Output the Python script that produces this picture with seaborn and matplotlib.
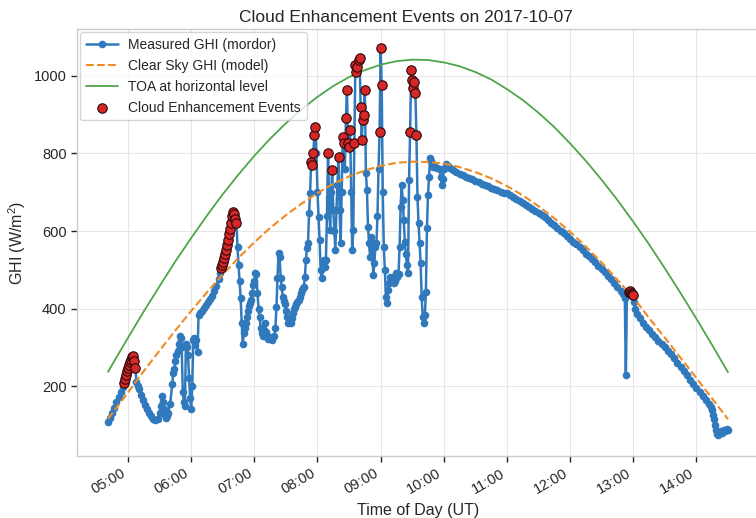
import pandas as pd
import matplotlib
matplotlib.use("Agg")
import matplotlib.pyplot as plt
import matplotlib.dates as mdates
import seaborn as sns

DAY = "2017-10-07"

# ---------------- model curves (15-min grid) ----------------
model_time = ["04:41", "04:45", "05:00", "05:15", "05:30", "05:45", "06:00", "06:15", "06:30", "06:45",
              "07:00", "07:15", "07:30", "07:45", "08:00", "08:15", "08:30", "08:45", "09:00", "09:15",
              "09:30", "09:45", "10:00", "10:15", "10:30", "10:45", "11:00", "11:15", "11:30", "11:45",
              "12:00", "12:15", "12:30", "12:45", "13:00", "13:15", "13:30", "13:45", "14:00", "14:15",
              "14:30"]
toa_value = [237, 256, 325, 393, 458, 522, 582, 640, 695, 746,
             794, 838, 878, 914, 946, 974, 997, 1015, 1029, 1038,
             1042, 1041, 1035, 1025, 1010, 991, 966, 938, 905, 868,
             826, 781, 732, 680, 624, 566, 504, 440, 374, 306,
             236]
clearsky_value = [116, 130, 184, 239, 292, 344, 394, 442, 488, 531,
                  571, 608, 641, 671, 698, 722, 741, 756, 768, 776,
                  779, 778, 774, 765, 752, 736, 716, 692, 664, 633,
                  598, 560, 519, 474, 429, 376, 325, 273, 221, 168,
                  115]

# ---------------- measured GHI ----------------
t04 = ["04:41", "04:43", "04:45", "04:47", "04:49", "04:51", "04:53", "04:55", "04:56", "04:57", "04:58", "04:59"]
v04 = [108, 118, 130, 145, 160, 172, 186, 198, 208, 218, 228, 238]

t05 = ["05:00", "05:01", "05:02", "05:03", "05:04", "05:05", "05:06", "05:07", "05:08", "05:09",
       "05:10", "05:12", "05:14", "05:16", "05:18", "05:20", "05:22", "05:24", "05:26", "05:28",
       "05:30", "05:31", "05:32", "05:33", "05:34", "05:35", "05:36", "05:37", "05:38", "05:40",
       "05:42", "05:43", "05:44", "05:45", "05:46", "05:47", "05:48", "05:49", "05:50", "05:51",
       "05:52", "05:53", "05:54", "05:55", "05:56", "05:57", "05:58", "05:59"]
v05 = [246, 255, 262, 268, 274, 277, 265, 248, 210, 200,
       192, 178, 165, 152, 140, 130, 122, 116, 112, 115,
       130, 150, 175, 160, 140, 125, 118, 122, 130, 155,
       205, 235, 245, 265, 280, 290, 310, 330, 325, 300,
       185, 160, 150, 310, 300, 280, 220, 170]

t06 = ["06:00", "06:01", "06:02", "06:03", "06:04", "06:05", "06:06", "06:07", "06:08", "06:10",
       "06:12", "06:14", "06:16", "06:18", "06:20", "06:22", "06:24", "06:26", "06:27", "06:28",
       "06:29", "06:30", "06:31", "06:32", "06:33", "06:34", "06:35", "06:36", "06:37", "06:38",
       "06:39", "06:40", "06:41", "06:42", "06:43", "06:44", "06:45", "06:46", "06:47", "06:48",
       "06:49", "06:50", "06:51", "06:52", "06:53", "06:54", "06:55", "06:56", "06:57", "06:58",
       "06:59"]
v06 = [140, 200, 318, 325, 305, 318, 288, 383, 390, 395,
       402, 410, 418, 425, 433, 445, 458, 476, 492, 505,
       512, 520, 530, 540, 552, 565, 578, 592, 606, 622,
       638, 650, 645, 632, 620, 560, 512, 470, 427, 362,
       310, 336, 350, 362, 378, 395, 406, 414, 422, 440,
       460]

t07 = ["07:00", "07:01", "07:02", "07:03", "07:04", "07:05", "07:06", "07:07", "07:08", "07:09",
       "07:10", "07:11", "07:12", "07:13", "07:15", "07:17", "07:19", "07:20", "07:21", "07:22",
       "07:23", "07:24", "07:25", "07:26", "07:27", "07:28", "07:29", "07:30", "07:31", "07:32",
       "07:33", "07:34", "07:35", "07:36", "07:37", "07:38", "07:39", "07:40", "07:41", "07:42",
       "07:43", "07:44", "07:45", "07:46", "07:47", "07:48", "07:49", "07:50", "07:51", "07:52",
       "07:53", "07:54", "07:55", "07:56", "07:57", "07:58", "07:59"]
v07 = [470, 491, 489, 440, 400, 378, 350, 336, 330, 345,
       362, 340, 326, 322, 326, 318, 330, 349, 404, 480,
       543, 533, 480, 455, 430, 420, 413, 395, 378, 362,
       366, 370, 362, 375, 388, 400, 404, 413, 418, 422,
       430, 440, 448, 452, 455, 481, 525, 556, 569, 646,
       698, 779, 770, 801, 847, 869, 800]

t08 = ["08:00", "08:01", "08:02", "08:03", "08:04", "08:05", "08:06", "08:07", "08:08", "08:09",
       "08:10", "08:11", "08:12", "08:13", "08:14", "08:15", "08:16", "08:17", "08:18", "08:19",
       "08:20", "08:21", "08:22", "08:23", "08:24", "08:25", "08:26", "08:27", "08:28", "08:29",
       "08:30", "08:31", "08:32", "08:33", "08:34", "08:35", "08:36", "08:37", "08:38", "08:39",
       "08:40", "08:41", "08:42", "08:43", "08:44", "08:45", "08:46", "08:47", "08:48", "08:49",
       "08:50", "08:51", "08:52", "08:53", "08:54", "08:55", "08:56", "08:57", "08:58", "08:59"]
v08 = [700, 636, 577, 499, 478, 517, 525, 507, 525, 640,
       801, 688, 602, 700, 757, 654, 600, 551, 654, 720,
       791, 654, 569, 700, 843, 827, 760, 891, 964, 827,
       817, 860, 700, 551, 602, 827, 1028, 1011, 1024, 1041,
       1045, 921, 835, 886, 899, 964, 749, 706, 611, 569,
       533, 585, 569, 486, 517, 559, 569, 640, 760, 856]

t09 = ["09:00", "09:01", "09:02", "09:03", "09:04", "09:05", "09:06", "09:07", "09:08", "09:09",
       "09:10", "09:11", "09:12", "09:13", "09:14", "09:15", "09:16", "09:17", "09:18", "09:19",
       "09:20", "09:21", "09:22", "09:23", "09:24", "09:25", "09:26", "09:27", "09:28", "09:29",
       "09:30", "09:31", "09:32", "09:33", "09:34", "09:35", "09:36", "09:37", "09:38", "09:39",
       "09:40", "09:41", "09:42", "09:43", "09:44", "09:45", "09:46", "09:47", "09:48", "09:49",
       "09:50", "09:52", "09:54", "09:56", "09:57", "09:58", "09:59"]
v09 = [1071, 977, 700, 559, 499, 430, 415, 448, 466, 481,
       470, 478, 481, 466, 470, 491, 481, 490, 560, 663,
       719, 680, 628, 572, 540, 512, 491, 731, 856, 1015,
       990, 969, 985, 956, 848, 688, 620, 569, 517, 430,
       378, 362, 383, 443, 607, 693, 740, 788, 780, 772,
       766, 764, 762, 760, 740, 718, 735]

t10 = ["10:00", "10:02", "10:04", "10:06", "10:09", "10:12", "10:15", "10:18", "10:21", "10:24",
       "10:27", "10:30", "10:33", "10:36", "10:39", "10:42", "10:45", "10:48", "10:51", "10:54",
       "10:57"]
v10 = [760, 774, 768, 763, 758, 752, 748, 744, 739, 736,
       733, 730, 726, 722, 718, 715, 712, 709, 705, 702,
       699]

t11 = ["11:00", "11:03", "11:06", "11:09", "11:12", "11:15", "11:18", "11:21", "11:24", "11:27",
       "11:30", "11:33", "11:36", "11:39", "11:42", "11:45", "11:48", "11:51", "11:54", "11:57"]
v11 = [697, 692, 688, 683, 678, 673, 668, 663, 658, 653,
       647, 641, 635, 629, 622, 615, 608, 601, 594, 587]

t12 = ["12:00", "12:03", "12:06", "12:09", "12:12", "12:15", "12:18", "12:21", "12:24", "12:27",
       "12:30", "12:33", "12:36", "12:39", "12:42", "12:45", "12:48", "12:50", "12:52", "12:53",
       "12:54", "12:55", "12:56", "12:57", "12:58", "12:59"]
v12 = [580, 573, 566, 558, 550, 542, 535, 527, 519, 511,
       503, 494, 485, 476, 467, 457, 446, 438, 428, 228,
       438, 440, 443, 446, 441, 438]

t13 = ["13:00", "13:01", "13:02", "13:04", "13:06", "13:09", "13:12", "13:15", "13:18", "13:21",
       "13:24", "13:27", "13:30", "13:33", "13:36", "13:39", "13:42", "13:45", "13:48", "13:51",
       "13:54", "13:57"]
v13 = [435, 418, 400, 385, 375, 362, 352, 344, 335, 326,
       317, 308, 300, 292, 282, 272, 261, 250, 239, 228,
       217, 206]

t14 = ["14:00", "14:03", "14:06", "14:09", "14:12", "14:14", "14:15", "14:16", "14:17", "14:18",
       "14:19", "14:20", "14:21", "14:22", "14:23", "14:24", "14:25", "14:26", "14:27", "14:28",
       "14:29", "14:30"]
v14 = [195, 185, 175, 165, 155, 147, 138, 127, 115, 100,
       86, 76, 74, 80, 84, 79, 85, 88, 84, 86,
       90, 88]

# times flagged as cloud enhancement events
event_time = ["04:56", "04:57", "04:58", "04:59", "05:00", "05:01", "05:02", "05:03", "05:04", "05:05",
              "05:06", "05:07",
              "06:28", "06:29", "06:30", "06:31", "06:32", "06:33", "06:34", "06:35", "06:36", "06:37",
              "06:38", "06:39", "06:40", "06:41", "06:42", "06:43",
              "07:54", "07:55", "07:56", "07:57", "07:58",
              "08:10", "08:14", "08:20", "08:24", "08:25", "08:27", "08:28", "08:29", "08:30", "08:31",
              "08:35", "08:36", "08:37", "08:38", "08:39", "08:40", "08:41", "08:42", "08:43", "08:44",
              "08:45", "08:59", "09:00", "09:01",
              "09:28", "09:29", "09:30", "09:31", "09:32", "09:33", "09:34",
              "12:56", "12:57", "12:58", "12:59", "13:00"]

ghi_time = t04 + t05 + t06 + t07 + t08 + t09 + t10 + t11 + t12 + t13 + t14
ghi_value = v04 + v05 + v06 + v07 + v08 + v09 + v10 + v11 + v12 + v13 + v14
for a, b in [(t04, v04), (t05, v05), (t06, v06), (t07, v07), (t08, v08), (t09, v09),
             (t10, v10), (t11, v11), (t12, v12), (t13, v13), (t14, v14)]:
    assert len(a) == len(b), (a[0], len(a), len(b))


def to_dt(ts):
    return pd.to_datetime([f"{DAY} {t}" for t in ts])


measured = pd.DataFrame({"time": to_dt(ghi_time), "ghi": ghi_value})
model = pd.DataFrame({"time": to_dt(model_time), "toa": toa_value, "clear": clearsky_value})
events = measured[measured["time"].isin(to_dt(event_time))]

# ---------------- style ----------------
sns.set_style("whitegrid", {"xtick.bottom": True, "ytick.left": True,
                            "axes.edgecolor": "0.8", "grid.color": "0.9",
                            "grid.linestyle": "-"})
plt.rcParams["font.family"] = ["Liberation Sans", "DejaVu Sans"]
plt.rcParams["mathtext.default"] = "regular"

BLUE = "#3179bd"
ORANGE = "#f08a24"
GREEN = "#4ea64a"
RED = "#d62728"

fig = plt.figure(figsize=(7.56, 5.18), dpi=100)
ax = fig.add_axes([77 / 756, 1 - 456 / 518, 682 / 756, 427 / 518])

sns.lineplot(data=measured, x="time", y="ghi", ax=ax, color=BLUE, marker="o",
             markersize=5.5, markeredgewidth=0, linewidth=1.8,
             label="Measured GHI (mordor)", estimator=None)
sns.lineplot(data=model, x="time", y="clear", ax=ax, color=ORANGE, linestyle="--",
             linewidth=1.5, label="Clear Sky GHI (model)", estimator=None)
sns.lineplot(data=model, x="time", y="toa", ax=ax, color=GREEN, linewidth=1.3,
             label="TOA at horizontal level", estimator=None)
sns.scatterplot(data=events, x="time", y="ghi", ax=ax, color=RED, edgecolor="#2a0808",
                linewidth=0.8, s=46, zorder=5, label="Cloud Enhancement Events")

ax.grid(True, linewidth=0.8)
ax.set_xlim(pd.Timestamp(f"{DAY} 04:11:30"), pd.Timestamp(f"{DAY} 14:59:30"))
ax.set_ylim(20, 1121)
ax.set_yticks([200, 400, 600, 800, 1000])
ax.xaxis.set_major_locator(mdates.HourLocator(byhour=range(5, 15)))
ax.xaxis.set_major_formatter(mdates.DateFormatter("%H:%M"))
ax.tick_params(axis="both", length=4, width=1, color="0.15", labelsize=10.5, labelcolor="0.15")
plt.setp(ax.get_xticklabels(), rotation=30, ha="right")
for sp in ax.spines.values():
    sp.set_linewidth(1.0)
    sp.set_color("0.8")

ax.set_title("Cloud Enhancement Events on 2017-10-07", fontsize=12.5, x=0.482, pad=5, color="0.15")
ax.set_xlabel("Time of Day (UT)", fontsize=11.5, color="0.15")
ax.set_ylabel("GHI (W/m$^2$)", fontsize=11.5, color="0.15")

ax.legend(loc="upper left", fontsize=10, borderaxespad=0.25, handlelength=2.3,
          handletextpad=0.75, labelspacing=0.5, frameon=True, edgecolor="0.8")

fig.savefig("out.png", dpi=100)
